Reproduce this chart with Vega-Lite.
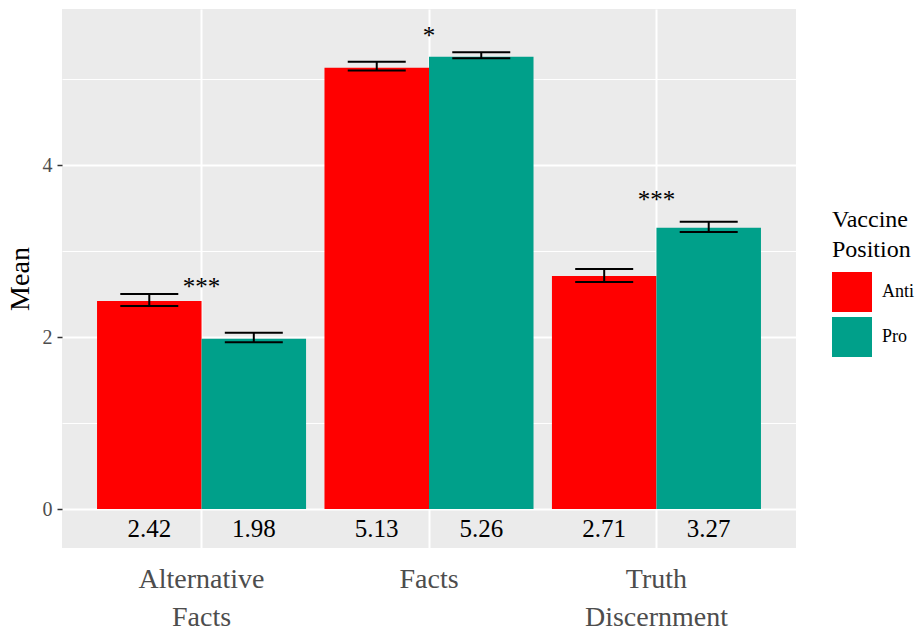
{
  "$schema": "https://vega.github.io/schema/vega-lite/v6.json",
  "width": 734,
  "height": 539,
  "autosize": {"type": "none"},
  "padding": {"left": 62, "top": 9, "right": 123, "bottom": 85},
  "background": "white",
  "config": {
    "font": "Liberation Serif",
    "view": {"fill": "#EBEBEB", "stroke": null},
    "axis": {"labelFont": "Liberation Serif", "titleFont": "Liberation Serif"},
    "axisY": {
      "labelFontSize": 20,
      "labelColor": "#4D4D4D",
      "labelPadding": 5,
      "titleFontSize": 28,
      "titleFontWeight": "normal",
      "titleColor": "black",
      "titlePadding": 8,
      "tickColor": "#333333",
      "tickSize": 5,
      "tickWidth": 1.5
    },
    "legend": {"labelFont": "Liberation Serif", "titleFont": "Liberation Serif"}
  },
  "data": {
    "values": [
      {"measure": "Alternative Facts", "position": "Anti", "mean": 2.42, "lo": 2.36, "hi": 2.50, "label": "2.42"},
      {"measure": "Alternative Facts", "position": "Pro", "mean": 1.98, "lo": 1.94, "hi": 2.05, "label": "1.98"},
      {"measure": "Facts", "position": "Anti", "mean": 5.13, "lo": 5.10, "hi": 5.20, "label": "5.13"},
      {"measure": "Facts", "position": "Pro", "mean": 5.26, "lo": 5.24, "hi": 5.31, "label": "5.26"},
      {"measure": "Truth Discernment", "position": "Anti", "mean": 2.71, "lo": 2.64, "hi": 2.79, "label": "2.71"},
      {"measure": "Truth Discernment", "position": "Pro", "mean": 3.27, "lo": 3.22, "hi": 3.34, "label": "3.27"}
    ]
  },
  "encoding": {
    "x": {
      "field": "measure",
      "type": "nominal",
      "sort": ["Alternative Facts", "Facts", "Truth Discernment"],
      "scale": {"paddingInner": 0.081, "paddingOuter": 0.154},
      "axis": {
        "title": null,
        "labelAngle": 0,
        "labelExpr": "split(datum.label, ' ')",
        "labelFont": "Liberation Serif",
        "labelFontSize": 28,
        "labelLineHeight": 38,
        "labelColor": "#4D4D4D",
        "labelPadding": 17,
        "ticks": false,
        "domain": false,
        "grid": true,
        "bandPosition": 0.5,
        "gridColor": "white",
        "gridWidth": 2
      }
    }
  },
  "layer": [
    {
      "mark": {"type": "bar"},
      "encoding": {
        "y": {
          "field": "mean",
          "type": "quantitative",
          "scale": {"domain": [-0.453, 5.814], "nice": false, "zero": false},
          "axis": {
            "title": "Mean",
            "values": [0, 1, 2, 3, 4, 5],
            "format": "d",
            "labelExpr": "datum.value % 2 === 1 ? '' : format(datum.value, 'd')",
            "labelFontSize": 20,
            "titleFontSize": 28,
            "tickOpacity": {"condition": {"test": "datum.value % 2 === 1", "value": 0}, "value": 1},
            "domain": false,
            "grid": true,
            "gridColor": "white",
            "gridWidth": {"condition": {"test": "datum.value % 2 === 1", "value": 1}, "value": 2}
          }
        },
        "xOffset": {"field": "position", "type": "nominal"},
        "color": {
          "field": "position",
          "type": "nominal",
          "scale": {"domain": ["Anti", "Pro"], "range": ["#FF0000", "#00A08A"]},
          "legend": {
            "orient": "none",
            "legendX": 770,
            "legendY": 199,
            "title": ["Vaccine", "Position"],
            "titleFontSize": 24,
            "titleFontWeight": "normal",
            "titleColor": "black",
            "titleLineHeight": 30,
            "titlePadding": 10,
            "labelFontSize": 18,
            "labelColor": "black",
            "labelOffset": 10,
            "symbolType": "square",
            "symbolSize": 1600,
            "symbolStrokeWidth": 0,
            "rowPadding": 5
          }
        }
      }
    },
    {
      "mark": {"type": "rule", "color": "black", "strokeWidth": 2},
      "encoding": {
        "y": {"field": "lo", "type": "quantitative"},
        "y2": {"field": "hi"},
        "xOffset": {"field": "position", "type": "nominal"}
      }
    },
    {
      "mark": {"type": "tick", "orient": "horizontal", "size": 58, "thickness": 2, "color": "black", "opacity": 1},
      "encoding": {
        "y": {"field": "lo", "type": "quantitative"},
        "xOffset": {"field": "position", "type": "nominal"}
      }
    },
    {
      "mark": {"type": "tick", "orient": "horizontal", "size": 58, "thickness": 2, "color": "black", "opacity": 1},
      "encoding": {
        "y": {"field": "hi", "type": "quantitative"},
        "xOffset": {"field": "position", "type": "nominal"}
      }
    },
    {
      "mark": {"type": "text", "font": "Liberation Serif", "fontSize": 25, "baseline": "middle", "color": "black"},
      "encoding": {
        "y": {"datum": -0.23, "type": "quantitative"},
        "xOffset": {"field": "position", "type": "nominal"},
        "text": {"field": "label"}
      }
    },
    {
      "data": {
        "values": [
          {"measure": "Alternative Facts", "sig": "***", "star_y": 2.49},
          {"measure": "Facts", "sig": "*", "star_y": 5.41},
          {"measure": "Truth Discernment", "sig": "***", "star_y": 3.5}
        ]
      },
      "mark": {"type": "text", "font": "Liberation Serif", "fontSize": 25, "baseline": "alphabetic", "color": "black"},
      "encoding": {
        "y": {"field": "star_y", "type": "quantitative"},
        "text": {"field": "sig"}
      }
    }
  ]
}
